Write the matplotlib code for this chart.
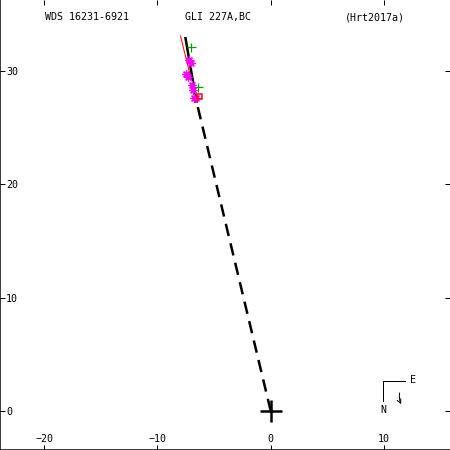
import numpy as np
import matplotlib
matplotlib.use("Agg")
import matplotlib.pyplot as plt

plt.rcParams['font.family'] = 'DejaVu Sans Mono'
plt.rcParams['font.size'] = 10

# data
fit_x = [-7.52, -6.55]
fit_y = [32.9, 27.3]
dash_x = [0.0, -6.55]
dash_y = [0.0, 27.3]
red_x = [-7.96, -7.12]
red_y = [33.1, 29.66]
green_x = [-7.03, -6.44]
green_y = [32.15, 28.62]
mag_x = [-7.25, -7.0, -7.45, -7.3, -6.92, -6.85, -6.8, -6.6]
mag_y = [30.95, 30.75, 29.75, 29.5, 28.75, 28.3, 27.6, 27.6]
sq_x = [-6.33]
sq_y = [27.8]
xticks = [-20, -10, 0, 10]
yticks = [0, 10, 20, 30]
title_left = 'WDS 16231-6921'
title_mid = 'GLI 227A,BC'
title_right = '(Hrt2017a)'

fig = plt.figure(figsize=(6.25, 6.25), dpi=72)
ax = fig.add_axes([0, 0, 1, 1])
ax.set_xlim(-23.89, 15.82)
ax.set_ylim(-3.44, 36.27)

ax.plot(dash_x, dash_y, color='black', lw=2.5, dashes=(5, 3))
ax.plot(fit_x, fit_y, color='black', lw=2.5)
ax.plot(red_x, red_y, color='red', lw=1)
ax.plot(green_x, green_y, ls='none', marker='+', ms=9, mew=1.2, color='#00a000')
ax.plot(mag_x, mag_y, ls='none', marker=(8, 2, 0), ms=8, mew=1.2, color='magenta')
ax.plot(sq_x, sq_y, ls='none', marker='s', ms=5, mew=1.5, mfc='none', color='red')
ax.plot([0], [0], marker='+', ms=22, mew=2.5, color='black')

ax.set_xticks(xticks)
ax.set_yticks(yticks)
ax.tick_params(direction='in', length=5, width=1, top=True, right=True)
ax.tick_params(axis='x', pad=-16)
ax.tick_params(axis='y', pad=-6)
for lab in ax.get_yticklabels():
    lab.set_horizontalalignment('left')
ax.spines['top'].set_visible(False)
ax.spines['right'].set_visible(False)
for s in ['left', 'bottom']:
    ax.spines[s].set_linewidth(1.5)


def px(x, y):
    return (x / 450.0, 1 - y / 450.0)


fig.text(*px(45, 17), title_left, va='center', ha='left')
fig.text(*px(185, 17), title_mid, va='center', ha='left')
fig.text(*px(345, 17), title_right, va='center', ha='left')

# compass
fig.add_artist(plt.Line2D([383 / 450, 383 / 450, 405 / 450],
                          [1 - 401 / 450, 1 - 381 / 450, 1 - 381 / 450],
                          transform=fig.transFigure, color='black', lw=1))
fig.text(*px(413, 380), 'E', va='center', ha='center')
fig.text(*px(383, 410), 'N', va='center', ha='center')
ax.annotate('', xy=px(402, 406), xytext=px(400, 391), xycoords='figure fraction',
            arrowprops=dict(arrowstyle='->', lw=1, color='black',
                            connectionstyle='arc3,rad=0.2'))

fig.savefig('out.png', dpi=72)
